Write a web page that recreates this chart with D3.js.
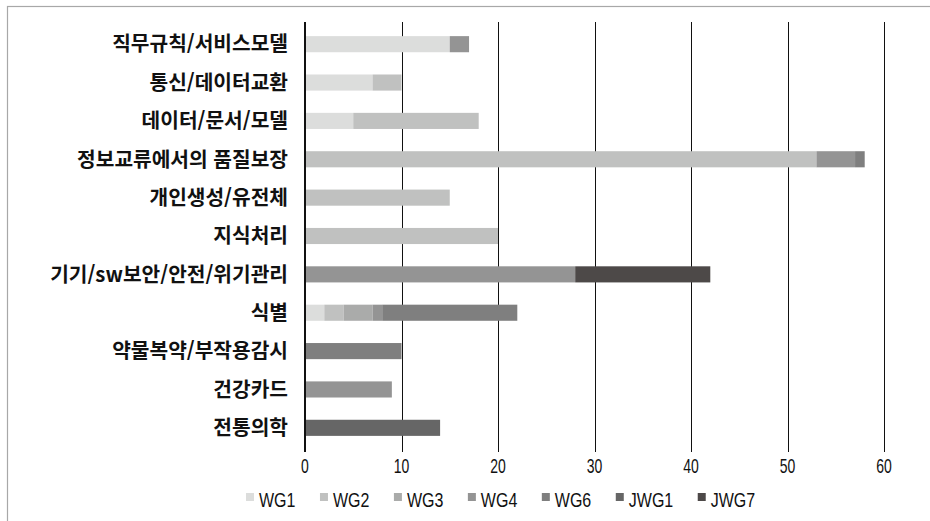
<!DOCTYPE html>
<html lang="ko">
<head>
<meta charset="UTF-8">
<title>WG stacked bar</title>
<script src="https://d3js.org/d3.v7.min.js"></script>
<style>
    body { margin: 0; background: #fff; }
    .cat text { font-family: "Noto Sans CJK KR", sans-serif; font-size: 20.3px; font-weight: 700; fill: #111; }
    .num { font-family: "Liberation Sans", Arial, sans-serif; font-size: 20px; fill: #111; }
</style>
</head>
<body>
<div id="chart"></div>
<script>
const categories = ["직무규칙/서비스모델", "통신/데이터교환", "데이터/문서/모델", "정보교류에서의 품질보장",
    "개인생성/유전체", "지식처리", "기기/sw보안/안전/위기관리", "식별", "약물복약/부작용감시", "건강카드", "전통의학"];
const seriesNames = ["WG1", "WG2", "WG3", "WG4", "WG6", "JWG1", "JWG7"];
const WG1  = [15, 7, 5, 0, 0, 0, 0, 2, 0, 0, 0];
const WG2  = [0, 3, 13, 53, 15, 20, 0, 2, 0, 0, 0];
const WG3  = [0, 0, 0, 0, 0, 0, 0, 3, 0, 0, 0];
const WG4  = [2, 0, 0, 4, 0, 0, 28, 1, 0, 9, 0];
const WG6  = [0, 0, 0, 1, 0, 0, 0, 14, 10, 0, 0];
const JWG1 = [0, 0, 0, 0, 0, 0, 0, 0, 0, 0, 14];
const JWG7 = [0, 0, 0, 0, 0, 0, 14, 0, 0, 0, 0];
const xTicks = [0, 10, 20, 30, 40, 50, 60];
const colors = ["#dcdddc", "#c0c1c0", "#aaabaa", "#949494", "#7f7f7f", "#666666", "#4d4948"];

const W = 930, H = 521;
const plotLeft = 305, plotRight = 884, plotTop = 25, plotBottom = 447;
// the reference uses a condensed latin face
const tickNarrow = 0.7, legendNarrow = 0.8;

const rows = categories.map((c, i) => {
    const r = { cat: c };
    [WG1, WG2, WG3, WG4, WG6, JWG1, JWG7].forEach((arr, k) => r[seriesNames[k]] = arr[i]);
    return r;
});
const stack = d3.stack().keys(seriesNames)(rows);

const svg = d3.select("#chart").append("svg")
    .attr("width", W).attr("height", H);

// outer frame
svg.append("rect")
    .attr("x", 7.5).attr("y", 6.5)
    .attr("width", W + 20).attr("height", H + 20)
    .attr("fill", "none").attr("stroke", "#a8a8a8").attr("stroke-width", 1.2);

const x = d3.scaleLinear().domain([0, 60]).range([plotLeft, plotRight]);
const y = d3.scaleBand().domain(categories).range([plotTop, plotBottom]).paddingInner(0.58).paddingOuter(0.29);

// gridlines
svg.append("g").selectAll("line")
    .data(xTicks.slice(1))
    .join("line")
    .attr("x1", d => Math.round(x(d)) + 0.5).attr("x2", d => Math.round(x(d)) + 0.5)
    .attr("y1", 22).attr("y2", 452)
    .attr("stroke", "#111").attr("stroke-width", 1);

// bars
svg.append("g").selectAll("g")
    .data(stack)
    .join("g")
    .attr("fill", (d, i) => colors[i])
    .selectAll("rect")
    .data(d => d.filter(s => s[1] > s[0]))
    .join("rect")
    .attr("x", d => x(d[0]))
    .attr("y", d => y(d.data.cat))
    .attr("width", d => x(d[1]) - x(d[0]))
    .attr("height", y.bandwidth());

// axis line at zero
svg.append("line")
    .attr("x1", x(0)).attr("x2", x(0))
    .attr("y1", 22).attr("y2", 452)
    .attr("stroke", "#111").attr("stroke-width", 2);

// category labels
svg.append("g").attr("class", "cat")
    .selectAll("text")
    .data(categories)
    .join("text")
    .attr("x", 288)
    .attr("y", d => y(d) + y.bandwidth() / 2)
    .attr("dy", "0.36em")
    .attr("text-anchor", "end")
    .text(d => d);

// x tick labels
svg.append("g")
    .selectAll("text")
    .data(xTicks)
    .join("text")
    .attr("class", "num")
    .attr("transform", d => `translate(${x(d)},473) scale(${tickNarrow},1)`)
    .attr("text-anchor", "middle")
    .text(d => d);

// legend
const legend = svg.append("g");
let lx = 246;
seriesNames.forEach((name, i) => {
    legend.append("rect")
        .attr("x", lx).attr("y", 493)
        .attr("width", 8).attr("height", 8)
        .attr("fill", colors[i]);
    const t = legend.append("text")
        .attr("class", "num")
        .attr("transform", `translate(${lx + 13},507) scale(${legendNarrow},1)`)
        .text(name);
    lx += 13 + t.node().getComputedTextLength() * legendNarrow + 24.5;
});
</script>
</body>
</html>
